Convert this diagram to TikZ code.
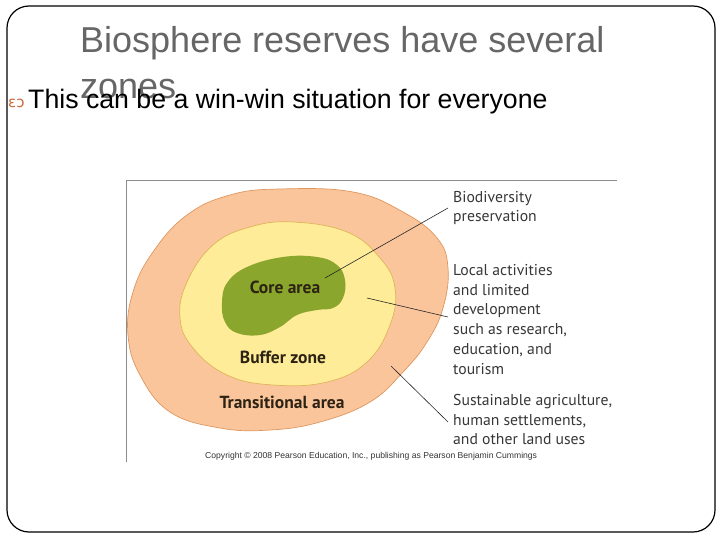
\documentclass[tikz,border=0pt]{standalone}
\usepackage{fontspec}
\setmainfont{Liberation Sans}
\newfontfamily\ptsans{PT Sans}
\newfontfamily\dejavu{DejaVu Sans}
\definecolor{titlegray}{RGB}{102,102,102}
\definecolor{peach}{RGB}{251,197,156}
\definecolor{peachline}{RGB}{222,150,95}
\definecolor{buffy}{RGB}{255,236,152}
\definecolor{buffline}{RGB}{222,180,90}
\definecolor{coregreen}{RGB}{138,166,44}
\definecolor{labeltext}{RGB}{45,35,20}
\definecolor{sidetext}{RGB}{55,55,55}
\definecolor{bulletcol}{RGB}{200,105,55}
\definecolor{framegray}{RGB}{140,140,140}
\tikzset{
  zonelabel/.style={inner sep=0pt, text=labeltext, font=\ptsans\bfseries\fontsize{17.5}{17.5}\selectfont},
  sidelabel/.style={anchor=north west, inner sep=0pt, align=left, text=sidetext, font=\ptsans\fontsize{15.7}{19.8}\selectfont},
  leader/.style={draw=black!85, line width=0.6pt},
  zonefill/.style={line width=0.7pt}
}
\newcommand{\firststrut}{\rule{0pt}{12pt}}
\begin{document}
\begin{tikzpicture}[x=1pt,y=-1pt]
\useasboundingbox (0,0) rectangle (720,540);
\draw[line width=1.2pt, rounded corners=22pt] (7,6) rectangle (715,532);
% title
\node[anchor=base west, inner sep=0pt, text=titlegray, font=\fontsize{36}{36}\selectfont] (title1) at (80,53) {Biosphere reserves have several};
\node[anchor=base west, inner sep=0pt, text=titlegray, font=\fontsize{36}{36}\selectfont] (title2) at (80,99) {zones};
% bullet
\node[anchor=base west, inner sep=0pt, text=bulletcol, font=\dejavu\fontsize{15}{15}\selectfont] (bmark) at (8,108) {ɛɔ};
\node[anchor=base west, inner sep=0pt, font=\fontsize{26.7}{26.7}\selectfont] (bullet) at (28,109) {This can be a win-win situation for everyone};
% figure frame
\draw[framegray, line width=0.8pt] (126,462) -- (126,180) -- (617,180);
% zones
\path[zonefill, fill=peach, draw=peachline] plot[smooth cycle, tension=0.7] coordinates {
 (280,189) (353,192) (403,212) (437,238) (448,268) (443,308) (427,342) (403,372) (370,402) (320,422) (270,430) (220,428) (170,412) (140,375) (128,335) (133,292) (153,252) (187,215) (230,195)};
\path[zonefill, fill=buffy, draw=buffline] plot[smooth cycle, tension=0.7] coordinates {
 (293,222) (347,232) (380,258) (395,288) (390,325) (367,362) (327,382) (273,385) (227,375) (193,348) (180,318) (187,282) (213,245) (250,227)};
\path[fill=coregreen] plot[smooth cycle, tension=0.7] coordinates {
 (222,303) (227,283) (247,267) (283,257) (317,257) (337,265) (345,280) (343,298) (333,308) (317,310) (297,315) (280,327) (260,335) (237,333) (225,322)};
% zone labels
\node[zonelabel] (core) at (285,287) {Core area};
\node[zonelabel] (buffer) at (283,357) {Buffer zone};
\node[zonelabel] (trans) at (282,402) {Transitional area};
% side labels (first baseline = y + 12)
\node[sidelabel] (bio) at (453,190) {\firststrut Biodiversity\\preservation};
\node[sidelabel] (local) at (453,263) {\firststrut Local activities\\and limited\\development\\such as research,\\education, and\\tourism};
\node[sidelabel] (sust) at (453,393) {\firststrut Sustainable agriculture,\\human settlements,\\and other land uses};
% leaders
\coordinate (s1) at (325,278); \coordinate (e1) at (448,208);
\coordinate (s2) at (367,298); \coordinate (e2) at (448,317);
\coordinate (s3) at (391,366); \coordinate (e3) at (448,422);
\draw[leader] (s1) -- (e1);
\draw[leader] (s2) -- (e2);
\draw[leader] (s3) -- (e3);
% copyright
\node[anchor=base west, inner sep=0pt, text=black!80, font=\fontsize{8.6}{8.6}\selectfont] (copy) at (205,458) {Copyright © 2008 Pearson Education, Inc., publishing as Pearson Benjamin Cummings};
\end{tikzpicture}
\end{document}
